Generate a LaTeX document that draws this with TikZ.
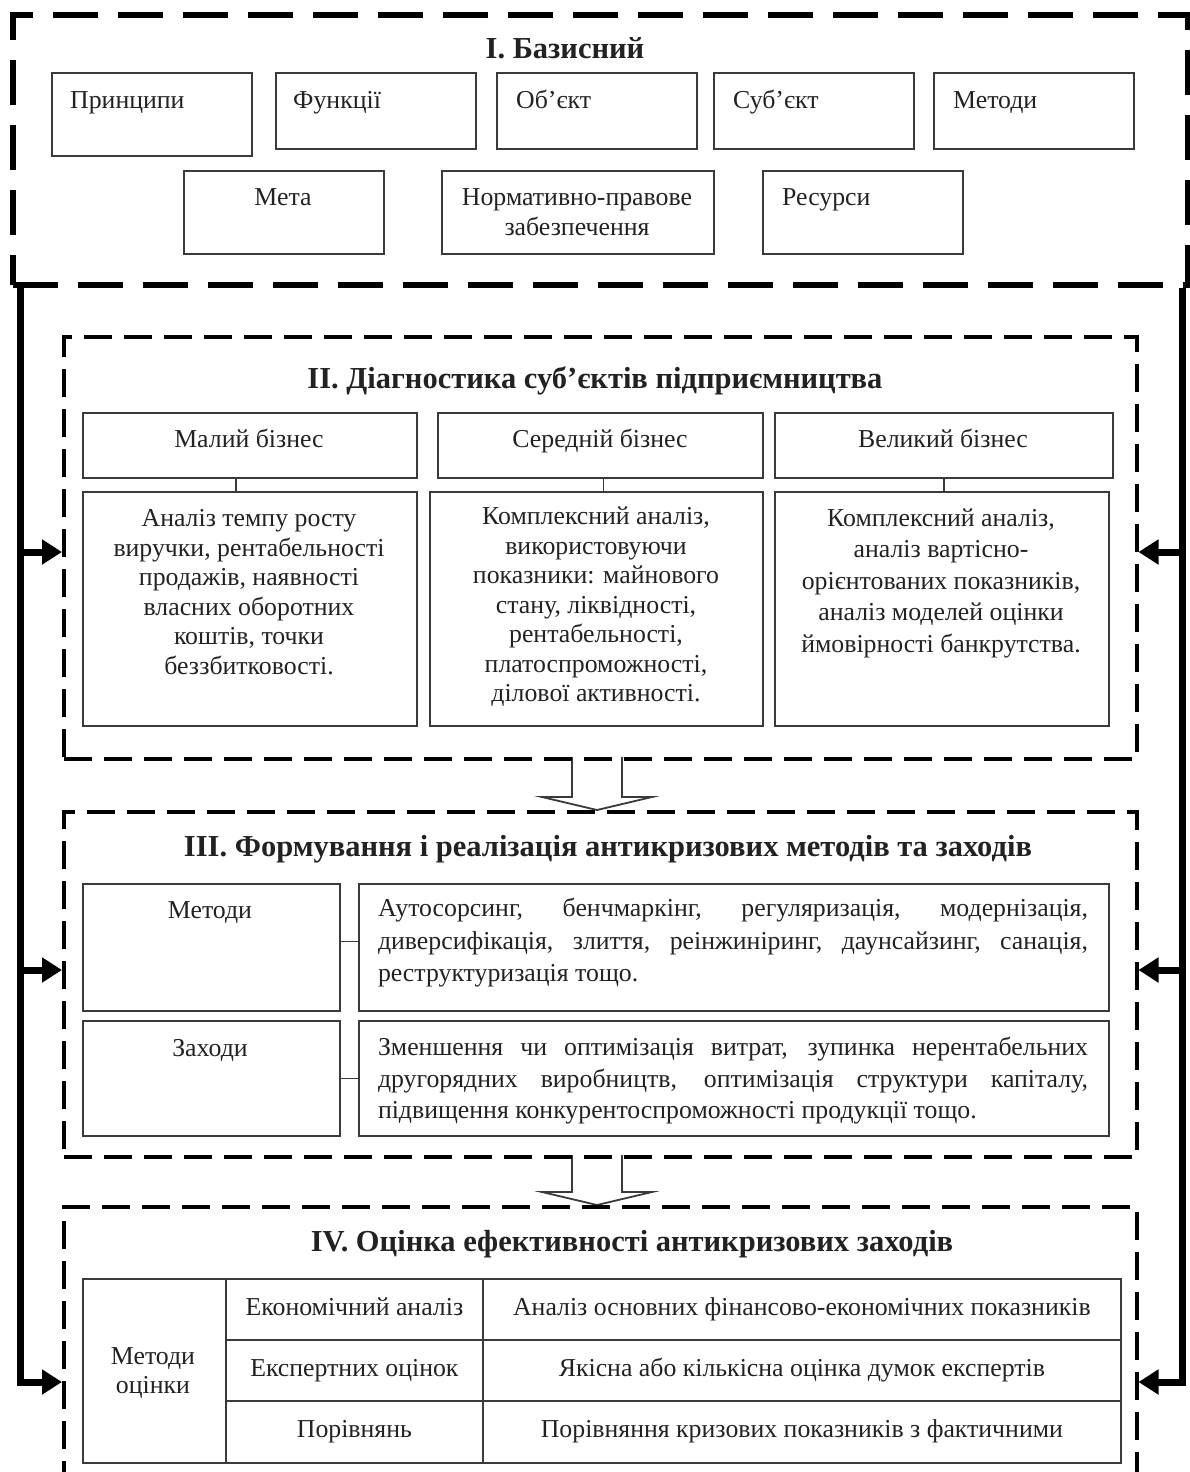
\documentclass[tikz,border=0pt]{standalone}
\usepackage{fontspec}
\setmainfont{Liberation Serif}
\usetikzlibrary{arrows.meta}
\definecolor{ink}{HTML}{222222}
\definecolor{edge}{HTML}{3A3A3A}
\begin{document}
\begin{tikzpicture}[x=1pt,y=-1pt,
  every node/.style={font=\fontsize{25.8}{29.5}\selectfont, text=ink},
  box/.style={draw=edge, line width=1.8pt, inner sep=0pt, anchor=north west},
  cell/.style={box, text height=17pt, text depth=5pt},
  lbl/.style={inner sep=0pt},
  title/.style={inner sep=0pt, font=\fontsize{30.5}{34}\selectfont\bfseries},
  bigdash/.style={draw=black, line width=6pt, dash pattern=on 45pt off 20pt, inner sep=0pt, anchor=north west},
  secdash/.style={draw=black, line width=3.5pt, dash pattern=on 28pt off 12pt, inner sep=0pt, anchor=north west},
  frame/.style={draw=black, line width=7pt, line join=miter},
  tip/.style={-{Triangle[length=20pt,width=24pt]}},
  hollow/.style={draw=edge, line width=1.8pt, fill=white},
  link/.style={draw=edge, line width=1.8pt}
]
\useasboundingbox (0,0) rectangle (1190,1472);

% hollow arrows between sections
\draw[hollow] (572,757) -- (572,797) -- (542,797) -- (597,810) -- (652,797) -- (622,797) -- (622,757);
\draw[hollow] (572,1155) -- (572,1192) -- (542,1192) -- (597,1205) -- (652,1192) -- (622,1192) -- (622,1155);

% Section I
\node[bigdash, minimum width=1175, minimum height=270] (secI) at (10,12) {};
\node[title] (tI) at (565,48) {I. Базисний};
\node[box, minimum width=200, minimum height=83] (prin) at (51,72) {};
\node[lbl, anchor=base west] (prinT) at (70,108) {Принципи};
\node[box, minimum width=200, minimum height=76] (func) at (275,72) {};
\node[lbl, anchor=base west] (funcT) at (293,108) {Функції};
\node[box, minimum width=200, minimum height=76] (obj) at (496,72) {};
\node[lbl, anchor=base west] (objT) at (516,108) {Об’єкт};
\node[box, minimum width=200, minimum height=76] (subj) at (713,72) {};
\node[lbl, anchor=base west] (subjT) at (733,108) {Суб’єкт};
\node[box, minimum width=200, minimum height=76] (meth) at (933,72) {};
\node[lbl, anchor=base west] (methT) at (953,108) {Методи};
\node[box, minimum width=200, minimum height=83] (meta) at (183,170) {};
\node[lbl, anchor=base] (metaT) at (283,205) {Мета};
\node[box, minimum width=272, minimum height=83] (norm) at (441,170) {};
\node[lbl, align=center] (normT) at (577,212) {Нормативно-правове\\забезпечення};
\node[box, minimum width=200, minimum height=83] (res) at (762,170) {};
\node[lbl, anchor=base west] (resT) at (782,205) {Ресурси};

% Section II
\node[secdash, minimum width=1073, minimum height=422] (secII) at (62,335) {};
\node[title] (tII) at (595,381) {II. Діагностика суб’єктів підприємництва};
\node[box, minimum width=334, minimum height=65] (small) at (82,412) {};
\node[lbl, anchor=base] (smallT) at (249,447) {Малий бізнес};
\node[box, minimum width=325, minimum height=65] (mid) at (437,412) {};
\node[lbl, anchor=base] (midT) at (600,447) {Середній бізнес};
\node[box, minimum width=338, minimum height=65] (big) at (774,412) {};
\node[lbl, anchor=base] (bigT) at (943,447) {Великий бізнес};
\node[box, minimum width=334, minimum height=234] (smallD) at (82,491) {};
\node[lbl, align=center] (smallDT) at (249,592) {Аналіз темпу росту\\виручки, рентабельності\\продажів, наявності\\власних оборотних\\коштів, точки\\беззбитковості.};
\node[box, minimum width=333, minimum height=234] (midD) at (429,491) {};
\node[lbl, align=center] (midDT) at (596,607) {Комплексний аналіз,\\використовуючи\\показники: майнового\\стану, ліквідності,\\рентабельності,\\платоспроможності,\\ділової активності.};
\node[box, minimum width=334, minimum height=234] (bigD) at (774,491) {};
\node[lbl, align=center, font=\fontsize{25.8}{31.5}\selectfont] (bigDT) at (941,583) {Комплексний аналіз,\\аналіз вартісно-\\орієнтованих показників,\\аналіз моделей оцінки\\ймовірності банкрутства.};
\draw[link] ([xshift=-14pt]small.south) -- ([xshift=-14pt]small.south |- smallD.north);
\draw[link] ([xshift=3pt]mid.south) -- ([xshift=3pt]mid.south |- midD.north);
\draw[link] (big.south) -- (big.south |- bigD.north);

% Section III
\node[secdash, minimum width=1073, minimum height=345] (secIII) at (62,810) {};
\node[title] (tIII) at (608,849) {III. Формування і реалізація антикризових методів та заходів};
\node[box, minimum width=257, minimum height=127] (metB) at (82,883) {};
\node[lbl, anchor=base] (metBT) at (210,918) {Методи};
\node[box, minimum width=750, minimum height=127] (metT) at (358,883) {};
\node[lbl, align=left, font=\fontsize{25.8}{32.5}\selectfont] (metTT) at (733,943) {\makebox[710pt][s]{Аутосорсинг, бенчмаркінг, регуляризація, модернізація,}\\\makebox[710pt][s]{диверсифікація, злиття, реінжиніринг, даунсайзинг, санація,}\\\makebox[710pt][l]{реструктуризація тощо.}};
\node[box, minimum width=257, minimum height=115] (zahB) at (82,1020) {};
\node[lbl, anchor=base] (zahBT) at (210,1056) {Заходи};
\node[box, minimum width=750, minimum height=115] (zahT) at (358,1020) {};
\node[lbl, align=left, font=\fontsize{25.8}{31.5}\selectfont] (zahTT) at (733,1081) {\makebox[710pt][s]{Зменшення чи оптимізація витрат, зупинка нерентабельних}\\\makebox[710pt][s]{другорядних виробництв, оптимізація структури капіталу,}\\\makebox[710pt][l]{підвищення конкурентоспроможності продукції тощо.}};
\draw[link] ([yshift=6pt]metB.east) -- ([yshift=6pt]metT.west);
\draw[link] (zahB.east) -- (zahT.west);

% Section IV
\node[secdash, minimum width=1073, minimum height=400] (secIV) at (62,1205) {};
\node[title] (tIV) at (632,1244) {IV. Оцінка ефективності антикризових заходів};
\node[box, minimum width=143, minimum height=184] (mo) at (82,1278) {};
\node[lbl, align=center] (moT) at (153,1373) {Методи\\оцінки};
\node[cell, minimum width=257, minimum height=61] (ea) at (225,1278) {Економічний аналіз};
\node[cell, minimum width=257, minimum height=61] (eo) at (225,1339) {Експертних оцінок};
\node[cell, minimum width=257, minimum height=62] (pr) at (225,1400) {Порівнянь};
\node[cell, minimum width=638, minimum height=61] (ead) at (482,1278) {Аналіз основних фінансово-економічних показників};
\node[cell, minimum width=638, minimum height=61] (eod) at (482,1339) {Якісна або кількісна оцінка думок експертів};
\node[cell, minimum width=638, minimum height=62] (prd) at (482,1400) {Порівняння кризових показників з фактичними};

% thick feedback frame
\coordinate (Ltop) at ([xshift=10pt]secI.south west);
\coordinate (Rtop) at ([xshift=-9pt]secI.south east);
\coordinate (Lbot) at (Ltop |- 0,1382);
\coordinate (Rbot) at (Rtop |- 0,1382);
\coordinate (LA) at (Ltop |- 0,552);
\coordinate (LB) at (Ltop |- 0,970);
\coordinate (RA) at (Rtop |- 0,552);
\coordinate (RB) at (Rtop |- 0,970);
\draw[frame, tip] (Ltop) -- (Lbot) -- (Lbot -| secIV.west);
\draw[frame, tip] (Rtop) -- (Rbot) -- (Rbot -| secIV.east);
\draw[frame, tip] (LA) -- (LA -| secII.west);
\draw[frame, tip] (LB) -- (LB -| secIII.west);
\draw[frame, tip] (RA) -- (RA -| secII.east);
\draw[frame, tip] (RB) -- (RB -| secIII.east);
\end{tikzpicture}
\end{document}
